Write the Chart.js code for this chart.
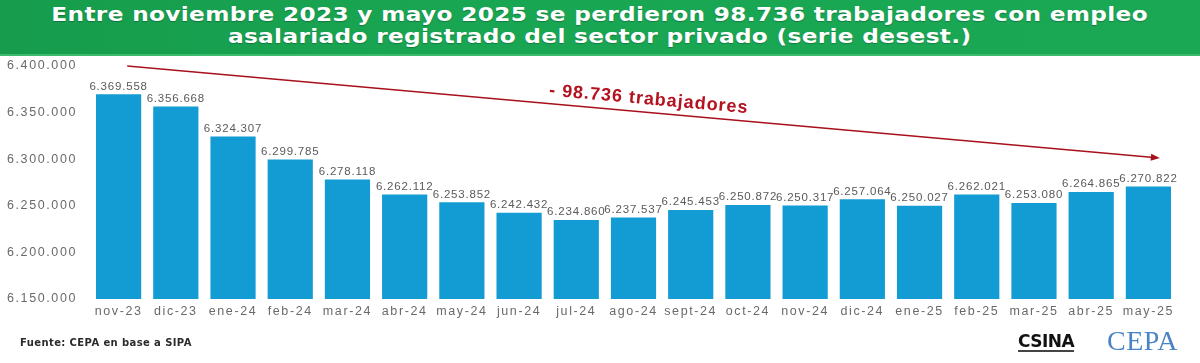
<!DOCTYPE html>
<html>
<head>
<meta charset="utf-8">
<script src="https://cdn.jsdelivr.net/npm/chart.js@4.4.1/dist/chart.umd.min.js"></script>
<style>
  html, body { margin: 0; padding: 0; background: #fff; }
  #wrap { position: relative; width: 1200px; height: 363px; overflow: hidden; }
  #head {
    position: absolute; left: 0; top: 0; width: 1200px; height: 56px;
    background: linear-gradient(90deg, #169c4c 0%, #19a653 40%, #1aa855 100%);
    border-bottom: 2px solid #3dbb6c;
    text-align: center; padding-top: 3px; box-sizing: border-box; z-index: 2;
  }
  #head span {
    display: inline-block; transform: scaleX(1.16); transform-origin: center;
    color: #fff; font: bold 20px "DejaVu Sans", sans-serif; letter-spacing: 0.3px;
    line-height: 22px; white-space: nowrap; text-shadow: 0 1px 1px rgba(0,0,0,0.25);
  }
  #chart { position: absolute; left: 0; top: 0; }
  #fuente {
    position: absolute; left: 20px; top: 337px;
    font: bold 10px "DejaVu Sans", sans-serif; color: #2b2b2b; letter-spacing: 0.4px;
  }
  #csina {
    position: absolute; left: 1018px; top: 333px;
    font: 900 17px "DejaVu Sans", sans-serif; color: #111; letter-spacing: -0.5px;
    border-bottom: 2px solid #444; line-height: 17px;
  }
  #cepa {
    position: absolute; left: 1107px; top: 325px;
    font: 28px "Liberation Serif", serif; color: #4b84c4; letter-spacing: 0.5px;
  }
</style>
</head>
<body>
<div id="wrap">
  <div id="head"><span>Entre noviembre 2023 y mayo 2025 se perdieron 98.736 trabajadores con empleo<br>asalariado registrado del sector privado (serie desest.)</span></div>
  <canvas id="chart" width="1200" height="363"></canvas>
  <div id="fuente">Fuente: CEPA en base a SIPA</div>
  <div id="csina">CSINA</div>
  <div id="cepa">CEPA</div>
</div>
<script>
var meses = ["nov-23", "dic-23", "ene-24", "feb-24", "mar-24", "abr-24", "may-24", "jun-24", "jul-24",
  "ago-24", "sept-24", "oct-24", "nov-24", "dic-24", "ene-25", "feb-25", "mar-25", "abr-25", "may-25"];
var trabajadores = [6369558, 6356668, 6324307, 6299785, 6278118, 6262112, 6253852, 6242432, 6234860,
  6237537, 6245453, 6250872, 6250317, 6257064, 6250027, 6262021, 6253080, 6264865, 6270822];
var yTicks = [6150000, 6200000, 6250000, 6300000, 6350000, 6400000];
var perdida = trabajadores[0] - trabajadores[trabajadores.length - 1]; // 98.736
var flechaDesde = { x: 0.15, y: 6400000 };
var flechaHasta = { x: 18.2, y: 6400000 - perdida };
var flechaTexto = "- 98.736 trabajadores";

function puntos(n) {
  return String(n).replace(/\B(?=(\d{3})+(?!\d))/g, ".");
}

// stretched look of the original labels
var espaciado = {
  id: "espaciado",
  beforeLayout: function (chart) { chart.ctx.letterSpacing = "1.6px"; },
  beforeDraw: function (chart) { chart.ctx.letterSpacing = "1.6px"; }
};

var etiquetas = {
  id: "etiquetas",
  afterDatasetsDraw: function (chart) {
    var ctx = chart.ctx;
    var meta = chart.getDatasetMeta(0);
    ctx.save();
    ctx.letterSpacing = "0.8px";
    ctx.font = "11.5px 'Liberation Sans', Arial, sans-serif";
    ctx.fillStyle = "#5a5a5a";
    ctx.textAlign = "center";
    ctx.textBaseline = "bottom";
    meta.data.forEach(function (bar, i) {
      ctx.fillText(puntos(trabajadores[i]), bar.x, bar.y - 2);
    });
    ctx.restore();
  }
};

var flecha = {
  id: "flecha",
  afterDraw: function (chart) {
    var ctx = chart.ctx, xs = chart.scales.x, ys = chart.scales.y;
    var x1 = xs.getPixelForValue(flechaDesde.x), y1 = ys.getPixelForValue(flechaDesde.y);
    var x2 = xs.getPixelForValue(flechaHasta.x), y2 = ys.getPixelForValue(flechaHasta.y);
    var ang = Math.atan2(y2 - y1, x2 - x1);
    ctx.save();
    ctx.strokeStyle = "#a8101c";
    ctx.fillStyle = "#a8101c";
    ctx.lineWidth = 1.6;
    ctx.beginPath();
    ctx.moveTo(x1, y1);
    ctx.lineTo(x2 - 6 * Math.cos(ang), y2 - 6 * Math.sin(ang));
    ctx.stroke();
    ctx.beginPath();
    ctx.moveTo(x2, y2);
    ctx.lineTo(x2 - 9 * Math.cos(ang) + 3.5 * Math.sin(ang), y2 - 9 * Math.sin(ang) - 3.5 * Math.cos(ang));
    ctx.lineTo(x2 - 9 * Math.cos(ang) - 3.5 * Math.sin(ang), y2 - 9 * Math.sin(ang) + 3.5 * Math.cos(ang));
    ctx.closePath();
    ctx.fill();
    // label along the arrow
    var t = 0.504;
    var cx = x1 + (x2 - x1) * t + 13 * Math.sin(ang);
    var cy = y1 + (y2 - y1) * t - 13 * Math.cos(ang);
    ctx.translate(cx, cy);
    ctx.rotate(ang);
    ctx.letterSpacing = "1px";
    ctx.font = "bold 18px 'Liberation Sans', Arial, sans-serif";
    ctx.fillStyle = "#b5121f";
    ctx.textAlign = "center";
    ctx.textBaseline = "middle";
    ctx.fillText(flechaTexto, 0, 0);
    ctx.restore();
  }
};

new Chart(document.getElementById("chart"), {
  type: "bar",
  data: {
    labels: meses,
    datasets: [{
      data: trabajadores,
      backgroundColor: "#139bd3",
      borderWidth: 0,
      barPercentage: 0.79,
      categoryPercentage: 1
    }]
  },
  options: {
    responsive: false,
    animation: false,
    layout: { padding: { top: 66, right: 23, bottom: 0, left: 0 } },
    plugins: { legend: { display: false }, tooltip: { enabled: false }, title: { display: false } },
    scales: {
      x: {
        grid: { display: false, drawTicks: false },
        border: { display: false },
        ticks: { color: "#6a6a6a", padding: 5, maxRotation: 0, autoSkip: false,
          font: { family: "'Liberation Sans', Arial, sans-serif", size: 12.5 } },
        afterFit: function (s) { s.height = 64; }
      },
      y: {
        min: 6150000,
        max: 6400000,
        grid: { display: false, drawTicks: false },
        border: { display: false },
        afterBuildTicks: function (s) { s.ticks = yTicks.map(function (v) { return { value: v }; }); },
        afterFit: function (s) { s.width = 90; },
        ticks: { color: "#6a6a6a", padding: 13,
          font: { family: "'Liberation Sans', Arial, sans-serif", size: 12.5 },
          callback: function (v) { return puntos(v); } }
      }
    }
  },
  plugins: [espaciado, etiquetas, flecha]
});
</script>
</body>
</html>
